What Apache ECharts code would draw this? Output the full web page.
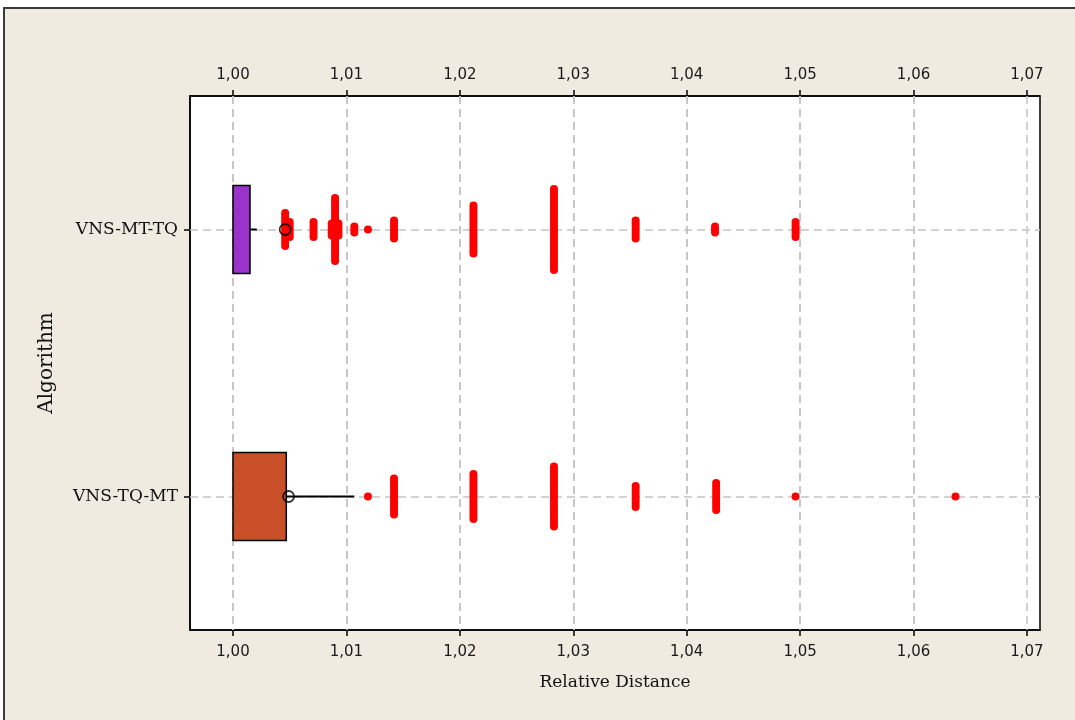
<!DOCTYPE html>
<html>
<head>
<meta charset="utf-8">
<script src="https://cdn.jsdelivr.net/npm/echarts/dist/echarts.min.js"></script>
<style>
  html, body { margin: 0; padding: 0; background: #fff; overflow: hidden; }
  #frame { position: absolute; left: 3px; top: 7px; width: 1100px; height: 740px;
           border: 2px solid #3a3a3a; background: #efebe1; }
  #main { position: absolute; left: 0; top: 0; width: 1075px; height: 720px; }
</style>
</head>
<body>
<div id="frame"></div>
<div id="main"></div>
<script>
// categories, top to bottom
const categories = ["VNS-MT-TQ", "VNS-TQ-MT"];

// box: first quartile, third quartile, upper whisker, mean
const boxQ1 = [1.0000, 1.0000];
const boxQ3 = [1.0015, 1.0047];
const whiskerHigh = [1.0021, 1.0107];
const meanValues = [1.0046, 1.0049];
const boxColors = ["#9933cc", "#c94f28"];

// outliers (value, how many observations stacked at that value)
const outlierMTTQ = [1.0046, 1.0050, 1.0071, 1.0087, 1.0090, 1.0093, 1.0107, 1.0119, 1.0142, 1.0212, 1.0283, 1.0355, 1.0425, 1.0496];
const countMTTQ   = [12, 6, 6, 5, 22, 5, 3, 1, 7, 17, 28, 7, 3, 6];
const outlierTQMT = [1.0119, 1.0142, 1.0212, 1.0283, 1.0355, 1.0426, 1.0496, 1.0637];
const countTQMT   = [1, 13, 16, 21, 8, 10, 1, 1];

// axis ticks
const majorTicks = [1.00, 1.01, 1.02, 1.03, 1.04, 1.05, 1.06, 1.07];
const gridTicks = [1.000, 1.005, 1.010, 1.015, 1.020, 1.025, 1.030, 1.035, 1.040, 1.045, 1.050, 1.055, 1.060, 1.065, 1.070];

const chart = echarts.init(document.getElementById("main"));

const boxData = categories.map((c, i) => [boxQ1[i], i, boxQ3[i], whiskerHigh[i]]);
const meanData = categories.map((c, i) => [meanValues[i], i]);
const outlierData = [];
outlierMTTQ.forEach((v, k) => outlierData.push([v, 0, countMTTQ[k]]));
outlierTQMT.forEach((v, k) => outlierData.push([v, 1, countTQMT[k]]));

const gridLine = { color: "#c4c4c4", width: 1.5, type: [8, 5] };
const fmt = v => v.toFixed(2).replace(".", ",");

function valueAxis(pos) {
  const top = pos === "top";
  return {
    type: "value",
    position: pos,
    min: 0.99621,
    max: 1.07115,
    name: top ? "" : "Relative Distance",
    nameLocation: "middle",
    nameGap: 44,
    nameTextStyle: { fontFamily: "DejaVu Serif", fontSize: 17, color: "#111" },
    axisLine: { show: true, lineStyle: { color: "#000", width: 1.5 } },
    axisTick: { show: true, length: 6, customValues: majorTicks, lineStyle: { color: "#000", width: 1.5 } },
    axisLabel: {
      customValues: majorTicks,
      formatter: fmt,
      margin: top ? 13 : 15,
      fontFamily: "DejaVu Sans",
      fontSize: 15,
      color: "#1a1a1a"
    },
    splitLine: { show: false }
  };
}

const option = {
  backgroundColor: "transparent",
  animation: false,
  grid: {
    left: 190, right: 35, top: 96, bottom: 90,
    show: true, backgroundColor: "#fff", borderColor: "#000", borderWidth: 1.5
  },
  xAxis: [valueAxis("bottom"), valueAxis("top")],
  yAxis: {
    type: "category",
    data: categories,
    inverse: true,
    name: "Algorithm",
    nameLocation: "middle",
    nameGap: 133,
    nameTextStyle: { fontFamily: "DejaVu Serif", fontSize: 20, color: "#111" },
    axisLine: { show: true, lineStyle: { color: "#000", width: 1.5 } },
    axisTick: { show: true, alignWithLabel: true, length: 6, lineStyle: { color: "#000", width: 1.5 } },
    axisLabel: { margin: 12, fontFamily: "DejaVu Serif", fontSize: 17, color: "#111" },
    splitLine: { show: false }
  },
  series: [
    {
      // dashed reference grid
      type: "line",
      data: [],
      z: 1,
      silent: true,
      markLine: {
        z: 1,
        silent: true,
        symbol: ["none", "none"],
        label: { show: false },
        emphasis: { disabled: true },
        lineStyle: gridLine,
        data: gridTicks.map(v => ({ xAxis: v }))
          .concat(categories.map(c => ({ yAxis: c })))
      }
    },
    {
      type: "custom",
      z: 3,
      silent: true,
      encode: { x: [0, 2, 3], y: 1 },
      data: boxData,
      renderItem(params, api) {
        const cat = api.value(1);
        const p1 = api.coord([api.value(0), cat]);
        const p3 = api.coord([api.value(2), cat]);
        const pw = api.coord([api.value(3), cat]);
        const h = api.size([0, 1])[1] * 0.33;
        return {
          type: "group",
          children: [
            { type: "line", shape: { x1: p3[0], y1: p3[1], x2: pw[0], y2: pw[1] },
              style: { stroke: "#000", lineWidth: 2 } },
            { type: "rect", shape: { x: p1[0], y: p1[1] - h / 2, width: p3[0] - p1[0], height: h },
              style: { fill: boxColors[params.dataIndex], stroke: "#000", lineWidth: 1.5 } }
          ]
        };
      }
    },
    {
      type: "custom",
      z: 4,
      silent: true,
      encode: { x: 0, y: 1 },
      data: outlierData,
      renderItem(params, api) {
        const c = api.coord([api.value(0), api.value(1)]);
        const n = api.value(2);
        const step = 3;
        const start = c[1] - (n - 1) * step / 2;
        const children = [];
        for (let k = 0; k < n; k++) {
          children.push({ type: "circle", shape: { cx: c[0], cy: start + k * step, r: 4 },
            style: { fill: "#ff0000" } });
        }
        return { type: "group", children };
      }
    },
    {
      type: "scatter",
      z: 5,
      silent: true,
      data: meanData,
      symbol: "circle",
      symbolSize: 11,
      itemStyle: { color: "rgba(0,0,0,0)", borderColor: "#000", borderWidth: 1.8 }
    }
  ]
};

chart.setOption(option);
</script>
</body>
</html>
